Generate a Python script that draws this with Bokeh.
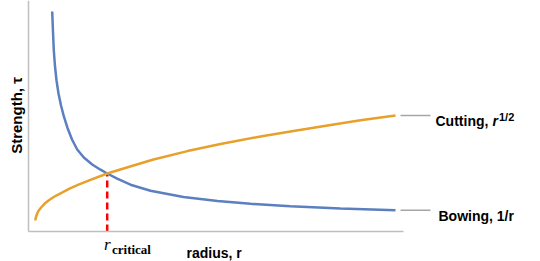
from bokeh.plotting import figure
from bokeh.models import Label, Range1d, FixedTicker
from bokeh.embed import file_html
from bokeh.resources import INLINE
import math

# ---- data ----
r_bowing = [0.632, 0.653, 0.675, 0.707, 0.747, 0.800, 0.867, 0.947, 1.040, 1.160,
            1.299, 1.475, 1.699, 1.920, 2.099, 2.365, 2.720, 3.253, 4.133, 5.040,
            5.920, 6.987, 8.320, 9.787]
tau_bowing = [9.524, 8.658, 7.835, 7.143, 6.537, 5.974, 5.455, 4.957, 4.481, 3.983,
              3.550, 3.203, 2.900, 2.675, 2.511, 2.286, 2.026, 1.762, 1.494, 1.320,
              1.199, 1.091, 0.996, 0.918]

r_cutting = [0.179, 0.200, 0.227, 0.267, 0.347, 0.427, 0.533, 0.693, 0.880, 1.093,
             1.333, 1.653, 2.099, 2.667, 3.333, 4.240, 5.120, 6.187, 7.067, 7.973,
             8.853, 9.787]
tau_cutting = [0.476, 0.628, 0.758, 0.896, 1.061, 1.199, 1.342, 1.515, 1.675, 1.853,
               2.026, 2.238, 2.511, 2.792, 3.117, 3.481, 3.788, 4.113, 4.351, 4.589,
               4.814, 5.022]

r_critical = 2.099
tau_critical = 2.511

label_cutting = "Cutting,"
label_cutting_r = "r"
label_cutting_exp = "1/2"
label_bowing = "Bowing, 1/r"
y_title = "Strength, \u03c4"
x_title = "radius, r"
crit_r = "r"
crit_sub = "critical"

# ---- layout helpers (pixel -> data) ----
W, H = 540, 261
X0, Y0 = 28.0, 231.0       # pixel of data origin
SX, SY = 37.5, 23.1        # pixels per data unit

def X(px):
    return (px - X0) / SX

def Y(py):
    return (Y0 - py) / SY

p = figure(width=W, height=H, output_backend="svg", toolbar_location=None,
           x_range=Range1d(X(0), X(W)), y_range=Range1d(Y(H), Y(0)),
           min_border=0, min_border_left=0, min_border_right=0,
           min_border_top=0, min_border_bottom=0)
p.grid.visible = False
p.outline_line_color = None
p.background_fill_color = "white"
p.border_fill_color = "white"

for ax in (p.xaxis[0], p.yaxis[0]):
    ax.fixed_location = 0
    ax.bounds = (0, 10)
    ax.ticker = FixedTicker(ticks=[])
    ax.major_tick_line_color = None
    ax.minor_tick_line_color = None
    ax.major_label_text_font_size = "0px"
    ax.axis_line_color = "#BFBFBF"
    ax.axis_line_width = 1.5

BLUE = "#5B7FBF"
ORANGE = "#E8A02A"
LEADER = "#A6A6A6"

# critical radius
p.segment(x0=[r_critical], y0=[0], x1=[r_critical], y1=[tau_critical],
          line_color="#FF0000", line_width=2.5, line_dash="7 4")

p.line(r_bowing, tau_bowing, line_color=BLUE, line_width=2.5)
p.line(r_cutting, tau_cutting, line_color=ORANGE, line_width=2.5)

# leader lines
p.segment(x0=[X(400), X(400)], y0=[tau_cutting[-1], tau_bowing[-1]],
          x1=[X(430), X(430)], y1=[tau_cutting[-1], tau_bowing[-1]],
          line_color=LEADER, line_width=1.5)

FONT = "Liberation Sans"
SERIF = "Liberation Serif"

def lab(text, px, py, size="14px", style="bold", font=FONT, **kw):
    kw.setdefault("text_baseline", "alphabetic")
    p.add_layout(Label(x=X(px), y=Y(py), text=text, text_font=font,
                       text_font_size=size, text_font_style=style,
                       text_color="black", **kw))

lab(label_cutting, 435, 120)
lab(label_cutting_r, 492, 120, style="bold italic")
lab(label_cutting_exp, 498.5, 116.5, size="11px")
lab(label_bowing, 438, 215)
lab(y_title, 16, 115, size="15px", angle=math.pi / 2, text_align="center")
lab(x_title, 186, 252.5)
lab(crit_r, 103.5, 243.5, size="17px", style="italic", font=SERIF)
lab(crit_sub, 111.5, 248.5, size="13px", style="bold", font=SERIF)

open("out.html", "w").write(file_html(p, INLINE))
